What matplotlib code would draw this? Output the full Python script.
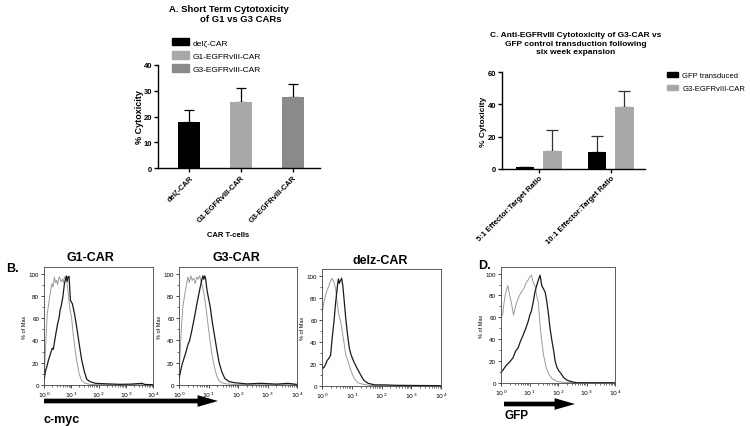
import matplotlib
matplotlib.use('Agg')
import matplotlib.pyplot as plt
import numpy as np
from matplotlib.patches import Patch, FancyArrowPatch
from matplotlib.ticker import LogLocator, NullFormatter, FixedLocator, MultipleLocator

plt.rcParams['font.family'] = ['Liberation Sans', 'DejaVu Sans']

# A. short term cytotoxicity
a_groups = ['delζ-CAR', 'G1-EGFRvIII-CAR', 'G3-EGFRvIII-CAR']
a_values = [17.8, 25.8, 27.5]
a_errors = [4.9, 5.2, 5.0]
a_colors = ['#000000', '#a8a8a8', '#8a8a8a']

# C. six week expansion
c_ratios = ['5:1 Effector:Target Ratio', '10:1 Effector:Target Ratio']
c_series = ['GFP transduced', 'G3-EGFRvIII-CAR']
c_gfp = [1.0, 10.3]
c_gfp_err = [0.3, 9.9]
c_g3 = [10.9, 38.5]
c_g3_err = [13.2, 9.7]

# B./D. histograms, x is log10 of intensity, y is % of max
g1_gray_x = [0.0, 0.04, 0.08, 0.12, 0.19, 0.24, 0.29, 0.33, 0.38, 0.42, 0.46, 0.5, 0.54, 0.57, 0.62, 0.67,
             0.71, 0.75, 0.8, 0.82, 0.85, 0.88, 0.94, 1.01, 1.07, 1.13, 1.2, 1.29, 1.38, 1.51, 1.7, 2.0, 2.5,
             3.0, 3.5, 4.0]
g1_gray_y = [5, 25, 45, 64, 76, 84, 91, 88, 97, 92, 94, 90, 96, 97, 93, 95, 92, 97, 96, 97, 90, 85, 70, 61,
             46, 34, 22, 10, 4, 1.5, 0.5, 0.3, 0.2, 0.2, 0.2, 0.2]
g1_black_x = [0.0, 0.06, 0.11, 0.16, 0.25, 0.3, 0.34, 0.38, 0.42, 0.5, 0.55, 0.59, 0.64, 0.69, 0.75, 0.79,
              0.82, 0.85, 0.88, 0.92, 0.97, 1.04, 1.12, 1.2, 1.29, 1.38, 1.47, 1.57, 1.7, 1.89, 2.33, 2.8,
              3.2, 3.6, 3.7, 4.0]
g1_black_y = [4, 13, 17, 22, 29, 33, 32, 38, 44, 55, 60, 67, 72, 79, 91, 95, 98, 93, 97, 97.6, 76, 73, 64,
              52, 37, 23, 13, 5, 3, 1.5, 1, 0.6, 0.8, 1.5, 0.5, 0.3]

g3_gray_x = [0.0, 0.04, 0.09, 0.14, 0.2, 0.25, 0.3, 0.35, 0.4, 0.45, 0.5, 0.55, 0.6, 0.65, 0.7, 0.75, 0.8,
             0.86, 0.92, 0.98, 1.05, 1.12, 1.2, 1.28, 1.36, 1.45, 1.6, 1.9, 2.5, 3.0, 3.5, 4.0]
g3_gray_y = [5, 30, 55, 72, 82, 90, 97, 92, 98, 94, 96, 91, 97, 95, 98, 93, 88, 80, 68, 55, 40, 27, 16, 8,
             4, 2, 1, 0.4, 0.3, 0.3, 0.3, 0.3]
g3_black_x = [0.0, 0.05, 0.1, 0.17, 0.24, 0.3, 0.36, 0.42, 0.48, 0.54, 0.6, 0.66, 0.72, 0.77, 0.81, 0.84,
              0.87, 0.9, 0.95, 1.0, 1.06, 1.12, 1.2, 1.28, 1.36, 1.45, 1.55, 1.7, 1.9, 2.3, 2.8, 3.3, 3.7, 4.0]
g3_black_y = [5, 12, 18, 24, 30, 36, 40, 47, 55, 63, 72, 80, 88, 94, 98, 95, 98, 96, 85, 78, 70, 58, 45,
              32, 20, 12, 6, 3, 2, 1, 1.5, 0.8, 1.5, 0.5]

dz_gray_x = [0.0, 0.06, 0.15, 0.22, 0.27, 0.34, 0.4, 0.46, 0.52, 0.57, 0.63, 0.72, 0.8, 0.88, 0.97, 1.08,
             1.2, 1.38, 1.6, 2.0, 2.5, 3.0, 3.5, 4.0]
dz_gray_y = [64, 76, 85, 90, 94, 97.6, 94, 88, 73, 64, 58, 43, 28, 22, 14, 7, 3, 1.5, 0.5, 0.3, 0.3, 0.2,
             0.2, 0.2]
dz_black_x = [0.0, 0.03, 0.07, 0.11, 0.17, 0.23, 0.29, 0.34, 0.4, 0.46, 0.52, 0.55, 0.58, 0.61, 0.66, 0.7,
              0.75, 0.8, 0.86, 0.92, 0.98, 1.07, 1.18, 1.3, 1.41, 1.55, 1.78, 2.1, 2.5, 3.0, 3.5, 4.0]
dz_black_y = [19, 16, 17, 19, 23, 25, 28, 43, 58, 76, 91, 97, 93, 95, 97.6, 91, 76, 61, 46, 34, 28, 22, 16,
              10, 5, 2.4, 1, 1, 0.6, 0.5, 0.4, 0.3]

gfp_gray_x = [0.0, 0.06, 0.1, 0.15, 0.2, 0.24, 0.3, 0.36, 0.44, 0.51, 0.56, 0.63, 0.71, 0.8, 0.87, 0.95,
              1.01, 1.07, 1.13, 1.19, 1.25, 1.31, 1.37, 1.43, 1.49, 1.58, 1.67, 1.79, 1.96, 2.2, 2.6, 3.0,
              3.5, 4.0]
gfp_gray_y = [61, 62.5, 72, 80.5, 86, 89, 80.5, 74, 62, 70, 74, 79, 83, 86, 91, 94, 97, 98.5, 92, 89, 80,
              74, 53, 38, 26, 14.5, 8.5, 4, 1.5, 0.5, 0.2, 0.2, 0.2, 0.2]
gfp_black_x = [0.0, 0.06, 0.18, 0.3, 0.42, 0.51, 0.6, 0.68, 0.78, 0.87, 0.95, 1.01, 1.07, 1.13, 1.19, 1.25,
               1.31, 1.37, 1.43, 1.49, 1.55, 1.61, 1.67, 1.72, 1.79, 1.85, 1.9, 1.96, 2.02, 2.11, 2.2, 2.32,
               2.5, 2.68, 3.0, 3.5, 4.0]
gfp_black_y = [10, 11.5, 16, 19, 23, 29, 32, 38, 44, 50, 56, 62, 66, 74, 83, 89, 94, 98.5, 89, 86, 83, 74,
               62, 50, 38, 29, 20, 14.5, 11.5, 8.5, 5, 2.5, 1, 0.2, 0.2, 0.2, 0.2]

W, H = 750, 427
fig = plt.figure(figsize=(7.5, 4.27), dpi=100)


def px_rect(x0, y0, x1, y1):
    # pixel box (top-left origin) -> figure rect
    return [x0 / W, 1 - y1 / H, (x1 - x0) / W, (y1 - y0) / H]


def px(x, y):
    return x / W, 1 - y / H


def prism_style(ax):
    ax.spines['top'].set_visible(False)
    ax.spines['right'].set_visible(False)
    ax.spines['left'].set_linewidth(1.0)
    ax.spines['bottom'].set_linewidth(1.0)
    ax.tick_params(direction='out', length=3, width=1.0, labelsize=5.5, pad=1)
    for lab in ax.get_yticklabels():
        lab.set_fontweight('bold')


# ---- Panel A ----
axA = fig.add_axes(px_rect(158, 66, 320, 169))
xa = np.arange(len(a_groups))
axA.bar(xa, a_values, width=0.42, color=a_colors, zorder=2)
axA.errorbar(xa, a_values, yerr=[[0] * 3, a_errors], fmt='none', ecolor='black',
             elinewidth=0.9, capsize=3.5, capthick=0.9, zorder=1)
axA.set_xlim(-0.6, 2.52)
axA.set_ylim(0, 40)
axA.set_yticks([0, 10, 20, 30, 40])
axA.set_xticks(xa)
axA.set_xticklabels(a_groups, rotation=45, ha='right', va='top', rotation_mode='anchor',
                    fontsize=5.5, fontweight='bold')
prism_style(axA)
axA.set_ylabel('% Cytoxicity', fontsize=6.5, fontweight='bold', labelpad=0)
fig.text(*px(229, 9), 'A. Short Term Cytotoxicity', ha='center', va='center', fontsize=6.8, fontweight='bold')
fig.text(*px(241, 20), 'of G1 vs G3 CARs', ha='center', va='center', fontsize=6.8, fontweight='bold')
fig.text(*px(228, 236), 'CAR T-cells', ha='center', va='center', fontsize=5.5, fontweight='bold')

handlesA = [Patch(color=c) for c in a_colors]
fig.legend(handlesA, a_groups, loc='upper left', bbox_to_anchor=px(172, 39), frameon=False, fontsize=6,
           handlelength=2.0, handleheight=1.0, handletextpad=0.5, labelspacing=0.55,
           borderpad=0, borderaxespad=0)

# ---- Panel C ----
axC = fig.add_axes(px_rect(502, 73, 645, 170))
xc = np.arange(len(c_ratios))
axC.bar(xc - 0.19, c_gfp, width=0.26, color='black', zorder=2)
axC.bar(xc + 0.19, c_g3, width=0.26, color='#a8a8a8', zorder=2)
axC.errorbar(xc - 0.19, c_gfp, yerr=[[0, 0], c_gfp_err], fmt='none', ecolor='#333333',
             elinewidth=0.9, capsize=4, capthick=0.9, zorder=1)
axC.errorbar(xc + 0.19, c_g3, yerr=[[0, 0], c_g3_err], fmt='none', ecolor='#333333',
             elinewidth=0.9, capsize=4, capthick=0.9, zorder=1)
axC.set_xlim(-0.51, 1.48)
axC.set_ylim(0, 60)
axC.set_yticks([0, 20, 40, 60])
axC.set_xticks(xc)
axC.set_xticklabels(c_ratios, rotation=45, ha='right', va='top', rotation_mode='anchor',
                    fontsize=5, fontweight='bold')
prism_style(axC)
axC.set_ylabel('% Cytoxicity', fontsize=6, fontweight='bold', labelpad=1)
fig.text(*px(576, 44), 'C. Anti-EGFRvIII Cytotoxicity of G3-CAR vs\nGFP control transduction following\nsix week expansion',
         ha='center', va='center', fontsize=6, fontweight='bold', linespacing=1.25)
handlesC = [Patch(color='black'), Patch(color='#a8a8a8')]
fig.legend(handlesC, c_series, loc='upper left', bbox_to_anchor=px(667, 73), frameon=False, fontsize=5.5,
           handlelength=1.5, handletextpad=0.5, labelspacing=0.7, borderpad=0, borderaxespad=0)


# ---- Panels B and D: flow histograms ----
def histo(box, gx, gy, bx, by):
    ax = fig.add_axes(px_rect(*box))
    ax.plot(10 ** np.array(gx), gy, color='#9a9a9a', lw=0.7)
    ax.plot(10 ** np.array(bx), by, color='#1a1a1a', lw=0.9)
    ax.set_xscale('log')
    ax.set_xlim(1, 1e4)
    ax.set_ylim(0, 106)
    ax.xaxis.set_major_locator(FixedLocator([1, 10, 100, 1000, 10000]))
    ax.set_xticklabels(['$10^0$', '$10^1$', '$10^2$', '$10^3$', '$10^4$'])
    ax.xaxis.set_minor_locator(LogLocator(base=10, subs=range(2, 10), numticks=20))
    ax.xaxis.set_minor_formatter(NullFormatter())
    ax.set_yticks([0, 20, 40, 60, 80, 100])
    ax.yaxis.set_minor_locator(MultipleLocator(10))
    ax.tick_params(which='major', direction='out', length=2, width=0.5, labelsize=4.5, pad=1.5)
    ax.tick_params(which='minor', direction='out', length=1.2, width=0.4)
    for s in ax.spines.values():
        s.set_linewidth(0.6)
        s.set_color('#444444')
    ax.set_ylabel('% of Max', fontsize=4, labelpad=1)
    return ax


histo((44, 268, 153, 386), g1_gray_x, g1_gray_y, g1_black_x, g1_black_y)
histo((179, 268, 297, 386), g3_gray_x, g3_gray_y, g3_black_x, g3_black_y)
histo((322, 270, 441, 387), dz_gray_x, dz_gray_y, dz_black_x, dz_black_y)
histo((501, 268, 615, 384), gfp_gray_x, gfp_gray_y, gfp_black_x, gfp_black_y)

fig.text(*px(90, 258), 'G1-CAR', ha='center', va='center', fontsize=9, fontweight='bold')
fig.text(*px(236, 258), 'G3-CAR', ha='center', va='center', fontsize=9, fontweight='bold')
fig.text(*px(380, 261), 'delz-CAR', ha='center', va='center', fontsize=9, fontweight='bold')
fig.text(*px(12, 269), 'B.', ha='center', va='center', fontsize=9, fontweight='bold')
fig.text(*px(484, 266), 'D.', ha='center', va='center', fontsize=9, fontweight='bold')

# thick arrows under the histograms
arrow_style = 'simple,head_length=1.05,head_width=0.6,tail_width=0.24'
fig.add_artist(FancyArrowPatch(px(44, 402), px(218, 402), transform=fig.transFigure, arrowstyle=arrow_style,
                               mutation_scale=14, color='black', lw=0, shrinkA=0, shrinkB=0))
fig.add_artist(FancyArrowPatch(px(504, 405), px(575, 405), transform=fig.transFigure, arrowstyle=arrow_style,
                               mutation_scale=14, color='black', lw=0, shrinkA=0, shrinkB=0))
fig.text(*px(44, 420), 'c-myc', ha='left', va='center', fontsize=9, fontweight='bold')
fig.text(*px(504, 416), 'GFP', ha='left', va='center', fontsize=8.5, fontweight='bold')

fig.savefig('out.png', dpi=100)
